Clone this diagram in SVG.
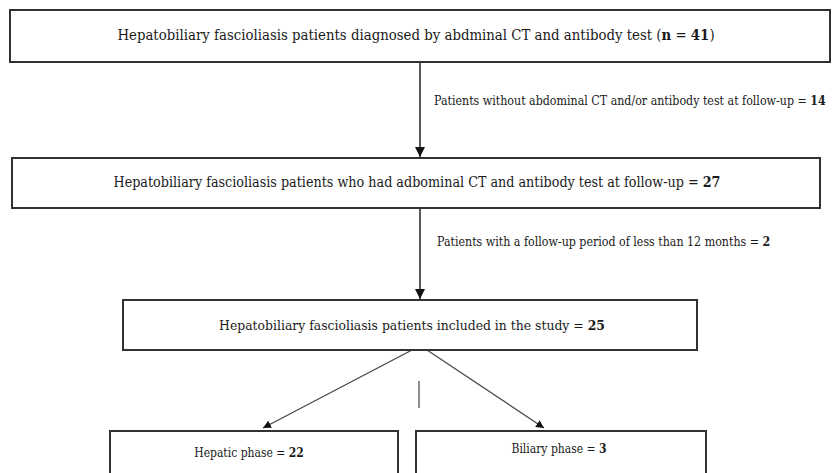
<svg xmlns="http://www.w3.org/2000/svg" width="832" height="473" viewBox="0 0 832 473">
<style>
.box{fill:#fff;stroke:#2f3333;stroke-width:2}
.t{font-family:"DejaVu Serif Condensed","DejaVu Serif","Liberation Serif",serif;font-stretch:condensed;fill:#1a1a1a}
.c{text-anchor:middle}
.s{text-anchor:start}
.sm{font-size:12.3px}
.ph{font-size:12px}
.b{font-weight:bold}
.ln{stroke:#222;stroke-width:1.5;fill:none}
.dg{stroke:#444;stroke-width:1.2;fill:none}
</style>
<defs>
<marker id="ah" viewBox="0 0 10 10" refX="10" refY="5" markerWidth="8" markerHeight="8" markerUnits="userSpaceOnUse" orient="auto">
<path d="M0,0 L10,5 L0,10 z" fill="#111"/>
</marker>
<marker id="ah2" viewBox="0 0 10 10" refX="10" refY="5" markerWidth="10" markerHeight="10" markerUnits="userSpaceOnUse" orient="auto">
<path d="M0,0 L10,5 L0,10 z" fill="#111"/>
</marker>
</defs>
<rect width="832" height="473" fill="#fff"/>
<g id="connectors">
<line class="ln" x1="420" y1="62" x2="420" y2="157" marker-end="url(#ah2)"/>
<line class="ln" x1="420" y1="208" x2="420" y2="299" marker-end="url(#ah2)"/>
<line class="dg" x1="412" y1="350" x2="263" y2="428" marker-end="url(#ah)"/>
<line class="dg" x1="427" y1="350" x2="544" y2="428" marker-end="url(#ah)"/>
<line class="dg" x1="419" y1="381" x2="419" y2="408"/>
<text class="t sm s" x="434" y="105">Patients without abdominal CT and/or antibody test at follow-up = <tspan class="b">14</tspan></text>
<text class="t sm s" x="437" y="246">Patients with a follow-up period of less than 12 months = <tspan class="b">2</tspan></text>
</g>
<g id="n1">
<rect class="box" x="10" y="10" width="820" height="52"/>
<text class="t c" font-size="14.8" x="416" y="40">Hepatobiliary fascioliasis patients diagnosed by abdminal CT and antibody test (<tspan class="b">n</tspan> = <tspan class="b">41</tspan>)</text>
</g>
<g id="n2">
<rect class="box" x="12" y="158" width="808" height="50"/>
<text class="t c" font-size="14.2" x="417" y="187">Hepatobiliary fascioliasis patients who had adbominal CT and antibody test at follow-up = <tspan class="b">27</tspan></text>
</g>
<g id="n3">
<rect class="box" x="123" y="300" width="574" height="50"/>
<text class="t c" font-size="13.8" x="412" y="330">Hepatobiliary fascioliasis patients included in the study = <tspan class="b">25</tspan></text>
</g>
<g id="n4">
<rect class="box" x="110" y="431" width="288" height="60"/>
<text class="t ph c" x="249" y="457">Hepatic phase = <tspan class="b">22</tspan></text>
</g>
<g id="n5">
<rect class="box" x="416" y="431" width="290" height="60"/>
<text class="t ph c" x="559" y="453">Biliary phase = <tspan class="b">3</tspan></text>
</g>
</svg>
